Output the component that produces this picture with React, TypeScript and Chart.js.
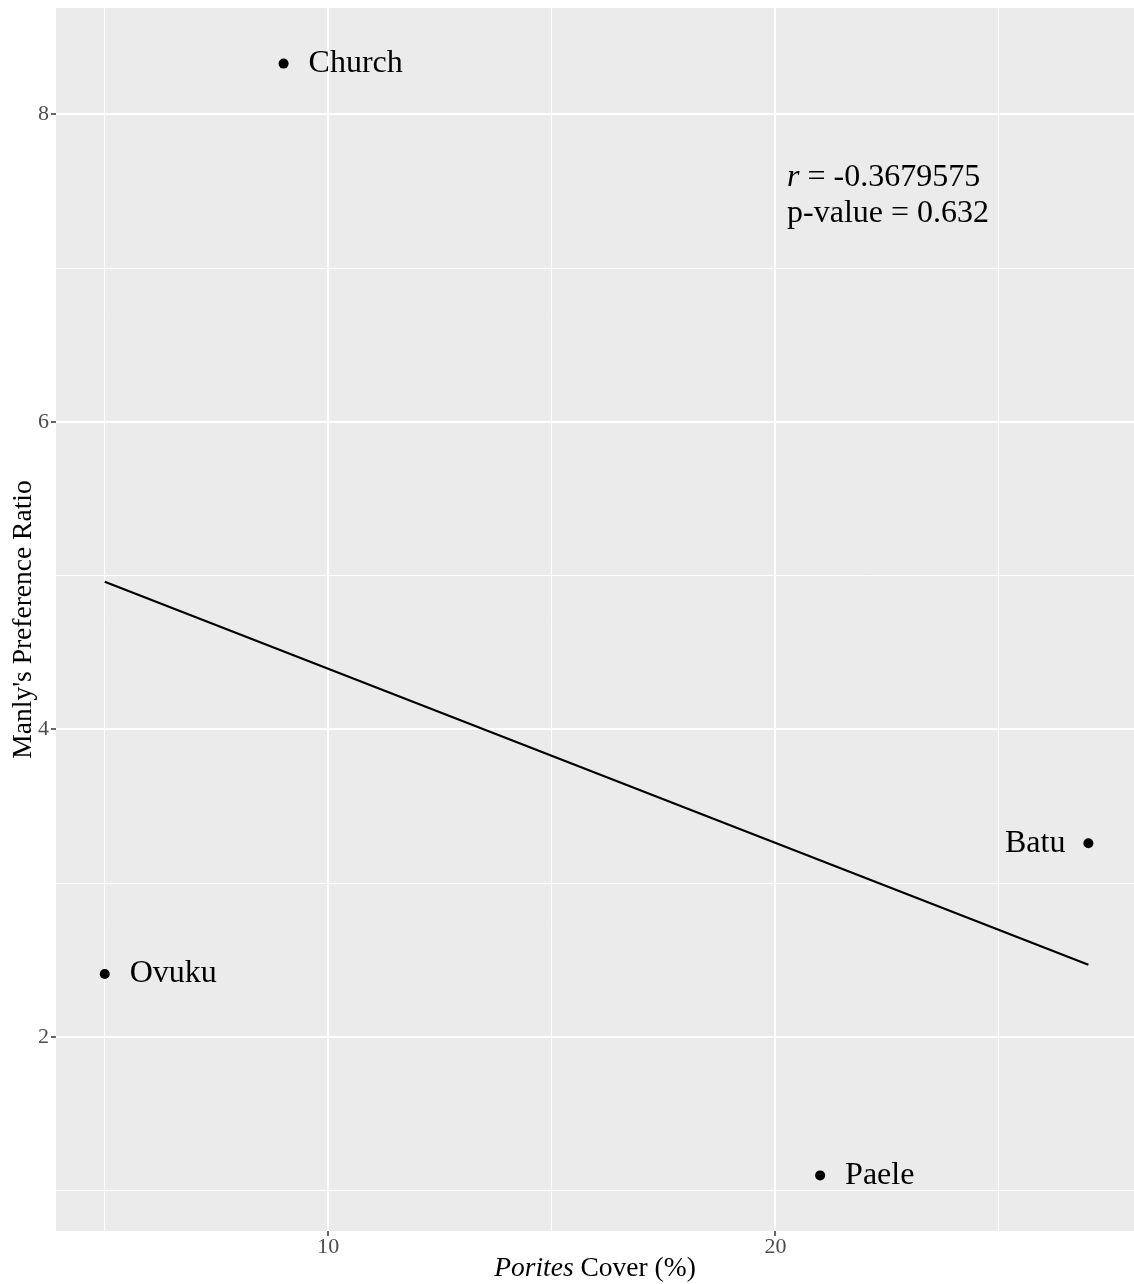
import React, { useEffect, useRef } from 'react';
import { Chart, registerables } from 'chart.js';

Chart.register(...registerables);

// ---- data ----
const sites = ['Church', 'Ovuku', 'Paele', 'Batu'];
const poritesCover = [9.0, 5.0, 21.0, 27.0];
const preferenceRatio = [8.33, 2.41, 1.1, 3.26];
const fitCover = [5.0, 27.0];
const fitRatio = [4.96, 2.47];
const xMajorTicks = [10, 20];
const xMinorTicks = [5, 15, 25];
const yMajorTicks = [2, 4, 6, 8];
const yMinorTicks = [1, 3, 5, 7];
const statR = '-0.3679575';
const statP = '0.632';
const statAnchor = { x: 20.26, y: 7.5 };

const FONT = '"Liberation Serif", "Times New Roman", Times, serif';

const decor = {
  id: 'ggDecor',
  beforeDraw(chart: any) {
    const { ctx, chartArea: a, width, height } = chart;
    ctx.save();
    ctx.fillStyle = '#FFFFFF';
    ctx.fillRect(0, 0, width, height);
    ctx.fillStyle = '#EBEBEB';
    ctx.fillRect(a.left, a.top, a.right - a.left, a.bottom - a.top);
    ctx.restore();
  },
  afterDatasetsDraw(chart: any) {
    const { ctx, chartArea: a } = chart;
    const xs = chart.scales.x;
    const ys = chart.scales.y;
    ctx.save();
    ctx.fillStyle = '#000000';
    ctx.font = `32px ${FONT}`;
    ctx.textBaseline = 'middle';
    sites.forEach((name, i) => {
      const px = xs.getPixelForValue(poritesCover[i]);
      const py = ys.getPixelForValue(preferenceRatio[i]);
      if (px > a.right - 150) {
        ctx.textAlign = 'right';
        ctx.fillText(name, px - 23, py);
      } else {
        ctx.textAlign = 'left';
        ctx.fillText(name, px + 25, py);
      }
    });
    // correlation annotation
    const ax = xs.getPixelForValue(statAnchor.x);
    const ay = ys.getPixelForValue(statAnchor.y);
    ctx.textAlign = 'left';
    ctx.textBaseline = 'alphabetic';
    ctx.font = `italic 32px ${FONT}`;
    ctx.fillText('r', ax, ay - 5);
    const rw = ctx.measureText('r').width;
    ctx.font = `32px ${FONT}`;
    ctx.fillText(` = ${statR}`, ax + rw, ay - 5);
    ctx.fillText(`p-value = ${statP}`, ax, ay + 31);
    ctx.restore();
  },
  afterDraw(chart: any) {
    const { ctx, chartArea: a } = chart;
    ctx.save();
    ctx.fillStyle = '#000000';
    // y title
    ctx.font = `27.5px ${FONT}`;
    ctx.textAlign = 'center';
    ctx.textBaseline = 'middle';
    ctx.translate(24, (a.top + a.bottom) / 2);
    ctx.rotate(-Math.PI / 2);
    ctx.fillText("Manly's Preference Ratio", 0, 0);
    ctx.restore();
    // x title with italic part
    ctx.save();
    ctx.fillStyle = '#000000';
    ctx.textBaseline = 'alphabetic';
    ctx.textAlign = 'left';
    const it = 'Porites';
    const rest = ' Cover (%)';
    ctx.font = `italic 27.5px ${FONT}`;
    const w1 = ctx.measureText(it).width;
    ctx.font = `27.5px ${FONT}`;
    const w2 = ctx.measureText(rest).width;
    const cx = (a.left + a.right) / 2;
    const x0 = cx - (w1 + w2) / 2;
    const by = 1276;
    ctx.font = `italic 27.5px ${FONT}`;
    ctx.fillText(it, x0, by);
    ctx.font = `27.5px ${FONT}`;
    ctx.fillText(rest, x0 + w1, by);
    ctx.restore();
  },
};

function gridOpts(major: number[]) {
  return {
    color: '#FFFFFF',
    lineWidth: (c: any) => (c.tick && major.includes(c.tick.value) ? 2 : 1),
    tickColor: (c: any) => (c.tick && major.includes(c.tick.value) ? '#333333' : 'rgba(0,0,0,0)'),
    tickWidth: 1.5,
    tickLength: 5,
    drawTicks: true,
  };
}

export default function App() {
  const ref = useRef<HTMLCanvasElement | null>(null);
  useEffect(() => {
    document.body.style.margin = '0';
    const canvas = ref.current;
    if (!canvas) return;
    const chart = new Chart(canvas, {
      type: 'scatter',
      data: {
        datasets: [
          {
            label: 'sites',
            data: poritesCover.map((x, i) => ({ x, y: preferenceRatio[i] })),
            pointRadius: 5,
            pointBackgroundColor: '#000000',
            pointBorderWidth: 0,
            showLine: false,
          },
          {
            label: 'fit',
            data: fitCover.map((x, i) => ({ x, y: fitRatio[i] })),
            showLine: true,
            borderColor: '#000000',
            borderWidth: 2.2,
            pointRadius: 0,
            fill: false,
          },
        ],
      },
      options: {
        responsive: false,
        animation: false,
        layout: { autoPadding: false, padding: { top: 8, right: 0, left: 0, bottom: 0 } },
        plugins: { legend: { display: false }, tooltip: { enabled: false } },
        scales: {
          x: {
            type: 'linear',
            min: 3.91,
            max: 28.02,
            afterBuildTicks: (s: any) => {
              s.ticks = [...xMinorTicks, ...xMajorTicks].sort((p, q) => p - q).map((v) => ({ value: v }));
            },
            afterFit: (s: any) => {
              s.height = 53;
              s.paddingLeft = 0;
              s.paddingRight = 0;
            },
            ticks: {
              autoSkip: false,
              maxRotation: 0,
              padding: -2,
              color: '#4D4D4D',
              font: { family: FONT, size: 22 },
              callback: (v: any) => (xMajorTicks.includes(Number(v)) ? String(v) : ''),
            },
            grid: gridOpts(xMajorTicks),
            border: { display: false },
          },
          y: {
            type: 'linear',
            min: 0.7385,
            max: 8.6915,
            afterBuildTicks: (s: any) => {
              s.ticks = [...yMinorTicks, ...yMajorTicks].sort((p, q) => p - q).map((v) => ({ value: v }));
            },
            afterFit: (s: any) => {
              s.width = 56;
              s.paddingTop = 0;
              s.paddingBottom = 0;
            },
            ticks: {
              autoSkip: false,
              padding: 2,
              color: '#4D4D4D',
              font: { family: FONT, size: 22 },
              callback: (v: any) => (yMajorTicks.includes(Number(v)) ? String(v) : ''),
            },
            grid: gridOpts(yMajorTicks),
            border: { display: false },
          },
        },
      },
      plugins: [decor],
    } as any);
    return () => chart.destroy();
  }, []);
  return (
    <div style={{ width: 1134, height: 1284 }}>
      <canvas ref={ref} width={1134} height={1284} style={{ display: 'block' }} />
    </div>
  );
}
